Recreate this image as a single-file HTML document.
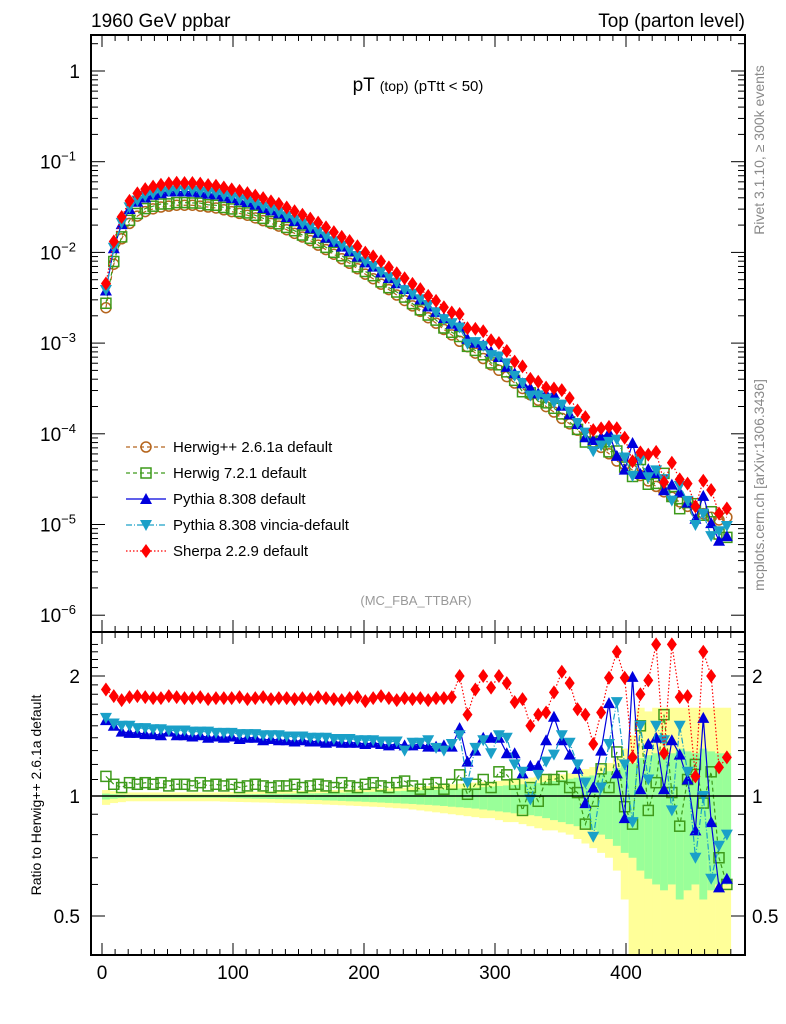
<!DOCTYPE html>
<html><head><meta charset="utf-8">
<style>
html,body{margin:0;background:#fff;width:786px;height:1024px;overflow:hidden;}
svg{display:block;font-family:"Liberation Sans",sans-serif;}
</style></head>
<body>
<svg id="chart" width="786" height="1024" viewBox="0 0 786 1024" xmlns="http://www.w3.org/2000/svg">
<defs>
<clipPath id="clipMain"><rect x="91" y="35" width="654" height="597"/></clipPath>
<clipPath id="clipRatio"><rect x="91" y="632" width="654" height="323"/></clipPath>
</defs>
<text x="91" y="27" font-size="19">1960 GeV ppbar</text>
<text x="745" y="27" font-size="19" text-anchor="end">Top (parton level)</text>
<text x="418" y="91" font-size="19" text-anchor="middle">pT <tspan font-size="14">(top)</tspan> <tspan font-size="15">(pTtt &lt; 50)</tspan></text>
<text x="416" y="605" font-size="13" fill="#999" text-anchor="middle">(MC_FBA_TTBAR)</text>
<text transform="translate(764,150) rotate(-90)" font-size="14" fill="#888" text-anchor="middle">Rivet 3.1.10, ≥ 300k events</text>
<text transform="translate(764,485) rotate(-90)" font-size="14" fill="#888" text-anchor="middle">mcplots.cern.ch [arXiv:1306.3436]</text>
<text transform="translate(41,795) rotate(-90)" font-size="14" text-anchor="middle">Ratio to Herwig++ 2.6.1a default</text>
<g id="bands" clip-path="url(#clipRatio)"></g>
<g id="marks"></g>
<g id="axes"></g>
<g id="legend"></g>
</svg>
<script>
// ---- data ----
const binCenters = [];
for (let i = 0; i < 80; i++) binCenters.push(3 + 6 * i);
const herwigppLog = [-2.61,-2.13,-1.85,-1.68,-1.60,-1.55,-1.52,-1.50,-1.49,-1.48,-1.48,-1.48,-1.49,-1.50,-1.51,-1.53,-1.55,-1.57,-1.59,-1.62,-1.65,-1.68,-1.71,-1.75,-1.79,-1.83,-1.87,-1.92,-1.97,-2.02,-2.07,-2.12,-2.18,-2.24,-2.29,-2.35,-2.41,-2.47,-2.53,-2.59,-2.65,-2.72,-2.78,-2.85,-2.91,-2.98,-3.04,-3.11,-3.17,-3.24,-3.30,-3.37,-3.44,-3.50,-3.57,-3.63,-3.70,-3.76,-3.83,-3.89,-3.96,-4.02,-4.09,-4.15,-4.22,-4.30,-4.34,-4.40,-4.46,-4.52,-4.58,-4.64,-4.70,-4.75,-4.80,-4.85,-4.88,-4.92,-4.95,-4.92];
const ratioHerwig7 = [1.12,1.07,1.05,1.08,1.07,1.08,1.07,1.08,1.06,1.07,1.07,1.06,1.08,1.06,1.07,1.06,1.07,1.05,1.06,1.07,1.06,1.05,1.06,1.06,1.07,1.05,1.06,1.07,1.06,1.05,1.08,1.06,1.05,1.07,1.08,1.06,1.05,1.08,1.09,1.06,1.04,1.07,1.08,1.04,1.07,1.13,1.01,1.07,1.1,1.05,1.15,1.13,1.07,0.92,1.05,0.97,1.1,1.1,1.12,1.05,1.02,0.85,0.97,1.17,1.05,1.29,0.94,0.85,1.5,0.92,1.08,1.6,1.02,0.84,1.1,1.2,0.96,1.15,0.7,0.6];
const ratioPythia = [1.55,1.5,1.45,1.44,1.44,1.43,1.43,1.42,1.45,1.42,1.42,1.41,1.42,1.4,1.41,1.4,1.41,1.39,1.4,1.4,1.38,1.39,1.38,1.38,1.37,1.38,1.37,1.37,1.36,1.37,1.36,1.36,1.36,1.35,1.36,1.35,1.34,1.35,1.34,1.34,1.35,1.33,1.33,1.34,1.33,1.48,1.22,1.3,1.4,1.4,1.4,1.28,1.28,1.14,1.19,1.19,1.38,1.58,1.38,1.27,1.17,0.96,1.05,1.3,1.71,1.14,0.88,1.99,1.04,1.35,1.4,1.04,1.38,1.27,1.1,0.82,1.57,0.86,0.59,0.62];
const ratioVincia = [1.57,1.52,1.5,1.5,1.48,1.48,1.47,1.47,1.46,1.46,1.46,1.45,1.45,1.45,1.44,1.44,1.44,1.43,1.43,1.43,1.42,1.42,1.42,1.41,1.41,1.41,1.4,1.4,1.4,1.39,1.39,1.39,1.38,1.38,1.38,1.37,1.37,1.37,1.3,1.36,1.36,1.38,1.32,1.3,1.35,1.42,1.08,1.32,1.38,1.28,1.42,1.4,1.2,1.15,0.98,1.13,1.22,1.27,1.42,1.36,1.2,1.08,0.79,1.05,1.35,1.72,1.2,0.86,1.5,1.1,1.5,1.38,0.92,1.5,1.15,0.7,1.0,0.62,0.75,0.8];
const ratioSherpa = [1.85,1.78,1.74,1.77,1.78,1.77,1.76,1.76,1.78,1.77,1.76,1.76,1.77,1.75,1.76,1.76,1.76,1.77,1.75,1.76,1.77,1.75,1.76,1.76,1.75,1.76,1.75,1.77,1.76,1.75,1.74,1.76,1.77,1.73,1.76,1.78,1.76,1.74,1.76,1.75,1.76,1.74,1.76,1.76,1.77,2.0,1.6,1.85,2.0,1.87,2.0,1.92,1.72,1.75,1.5,1.6,1.62,1.82,2.05,1.92,1.65,1.6,1.35,1.62,1.98,2.3,1.98,1.25,1.8,1.95,2.4,1.28,2.4,1.77,1.78,1.12,2.3,2.0,1.18,1.25];
const errGreen = [0.02,0.015,0.012,0.01,0.01,0.01,0.01,0.01,0.01,0.01,0.01,0.01,0.01,0.01,0.01,0.011,0.012,0.013,0.014,0.015,0.016,0.017,0.018,0.019,0.02,0.021,0.022,0.023,0.025,0.026,0.028,0.03,0.031,0.033,0.035,0.037,0.039,0.041,0.043,0.045,0.048,0.05,0.053,0.056,0.06,0.063,0.066,0.07,0.075,0.08,0.085,0.09,0.095,0.1,0.105,0.11,0.12,0.13,0.14,0.15,0.16,0.17,0.18,0.2,0.22,0.25,0.28,0.3,0.35,0.38,0.4,0.42,0.4,0.45,0.42,0.4,0.45,0.42,0.4,0.4];
const errYellow = [0.05,0.04,0.035,0.03,0.03,0.03,0.03,0.03,0.03,0.03,0.03,0.03,0.03,0.03,0.03,0.032,0.033,0.034,0.035,0.036,0.037,0.038,0.04,0.041,0.042,0.043,0.045,0.046,0.048,0.05,0.052,0.054,0.056,0.058,0.06,0.062,0.065,0.068,0.07,0.075,0.08,0.085,0.09,0.095,0.1,0.105,0.11,0.115,0.12,0.12,0.13,0.14,0.14,0.15,0.16,0.17,0.18,0.18,0.19,0.2,0.22,0.24,0.26,0.28,0.3,0.35,0.45,0.6,0.95,0.9,0.95,0.95,0.95,0.95,0.95,0.95,0.95,0.95,0.95,0.95];
const xTicks = [0,100,200,300,400];
const mainTicks = [0,-1,-2,-3,-4,-5,-6];
const ratioTicks = [2,1,0.5];

// ---- axes functions ----
const X0 = 102, XS = 1.31;
const xPx = v => X0 + v * XS;
const yMain = lg => 71 - lg * 90.7;
const yRatio = r => 796 - 120 * Math.log2(r);
const NS = 'http://www.w3.org/2000/svg';
function mk(tag, attrs, parent) {
  const e = document.createElementNS(NS, tag);
  for (const k in attrs) e.setAttribute(k, attrs[k]);
  parent.appendChild(e);
  return e;
}
const axes = document.getElementById('axes');
const marks = document.getElementById('marks');
const bands = document.getElementById('bands');

// bands
for (let i = 0; i < binCenters.length; i++) {
  const x1 = xPx(binCenters[i] - 3), x2 = xPx(binCenters[i] + 3);
  [[errYellow[i], '#ffff99', 'band-yellow'], [errGreen[i], '#99ff99', 'band-green']].forEach(([e, c, n]) => {
    const lo = Math.max(1 - e, 0.05), hi = 1 + 0.7 * e;
    const r = mk('rect', {x: x1, y: yRatio(hi), width: x2 - x1 + 0.3, height: yRatio(lo) - yRatio(hi), fill: c}, bands);
    
    
  });
}
const one = mk('line', {x1: 91, x2: 745, y1: yRatio(1), y2: yRatio(1), stroke: '#000', 'stroke-width': 1.5}, axes);



// series
const series = [
  {name: 'herwigpp', color: '#b5651d', dash: '4,3', marker: 'circle', ratio: null},
  {name: 'herwig7', color: '#3d9a1a', dash: '4,3', marker: 'square', ratio: ratioHerwig7},
  {name: 'pythia', color: '#0000dd', dash: '', marker: 'up', ratio: ratioPythia},
  {name: 'vincia', color: '#1aa0c8', dash: '6,2,1,2', marker: 'down', ratio: ratioVincia},
  {name: 'sherpa', color: '#ff0000', dash: '1.5,2', marker: 'diamond', ratio: ratioSherpa}
];
function marker(type, x, y, color, parent) {
  let e;
  if (type === 'circle') e = mk('circle', {cx: x, cy: y, r: 5, fill: 'none', stroke: color, 'stroke-width': 1.5}, parent);
  else if (type === 'square') e = mk('rect', {x: x - 5, y: y - 5, width: 10, height: 10, fill: 'none', stroke: color, 'stroke-width': 1.5}, parent);
  else if (type === 'up') e = mk('polygon', {points: `${x},${y-6} ${x-6},${y+5} ${x+6},${y+5}`, fill: color}, parent);
  else if (type === 'down') e = mk('polygon', {points: `${x},${y+6} ${x-6},${y-5} ${x+6},${y-5}`, fill: color}, parent);
  else e = mk('polygon', {points: `${x},${y-7} ${x+5},${y} ${x},${y+7} ${x-5},${y}`, fill: color}, parent);
  return e;
}
series.forEach(s => {
  const gm = mk('g', {'clip-path': 'url(#clipMain)'}, marks);
  
  
  const pm = [], pr = [];
  for (let i = 0; i < binCenters.length; i++) {
    const r = s.ratio ? s.ratio[i] : 1;
    const lg = herwigppLog[i] + Math.log10(r);
    pm.push([xPx(binCenters[i]), yMain(lg)]);
    pr.push([xPx(binCenters[i]), yRatio(r)]);
  }
  const groups = [[gm, pm]];
  if (s.ratio) {
    const gr = mk('g', {'clip-path': 'url(#clipRatio)'}, marks);
    
    
    groups.push([gr, pr]);
  }
  groups.forEach(([g, pts]) => {
    const pl = mk('polyline', {points: pts.map(p => p.join(',')).join(' '), fill: 'none', stroke: s.color, 'stroke-width': 1.2, 'stroke-dasharray': s.dash}, g);
    
    
    pts.forEach(p => {
      const m = marker(s.marker, p[0], p[1], s.color, g);
      
      
    });
  });
});

// frames
[[35, 597, 'main-frame'], [632, 323, 'ratio-frame']].forEach(([y, h, n]) => {
  const r = mk('rect', {x: 91, y: y, width: 654, height: h, fill: 'none', stroke: '#000', 'stroke-width': 2}, axes);
  
  
});
// x ticks
for (let v = 0; v <= 480; v += 10) {
  const major = v % 100 === 0;
  const L = major ? 12 : 6;
  [[35, 1], [632, -1], [632, 1], [955, -1]].forEach(([y, d]) => {
    const t = mk('line', {x1: xPx(v), x2: xPx(v), y1: y, y2: y + d * L, stroke: '#000', 'stroke-width': 1}, axes);
    
    
  });
}
xTicks.forEach(v => {
  const t = mk('text', {x: xPx(v), y: 979, 'font-size': 19, 'text-anchor': 'middle'}, axes);
  t.textContent = v;
  
  
});
// main y ticks
for (let d = 0; d >= -6; d--) {
  for (let k = 1; k <= 9; k++) {
    const yy = yMain(k === 1 ? d : d + Math.log10(k));
    if (yy < 35 || yy > 632) continue;
    const L = k === 1 ? 14 : 7;
    [[91, 1], [745, -1]].forEach(([x, s]) => {
      const t = mk('line', {x1: x, x2: x + s * L, y1: yy, y2: yy, stroke: '#000', 'stroke-width': 1}, axes);
      
      
    });
  }
}
mainTicks.forEach(d => {
  const t = mk('text', {x: 80, y: yMain(d) + 7, 'font-size': 19, 'text-anchor': 'end'}, axes);
  
  
  if (d === 0) t.textContent = '1';
  else {
    t.textContent = '10';
    const sp = mk('tspan', {dy: -8, 'font-size': 13}, t);
    sp.textContent = '−' + (-d);
  }
  if (d !== 0) t.setAttribute('x', 58);
  if (d !== 0) t.setAttribute('text-anchor', 'middle');
});
// ratio ticks
for (let r = 0.4; r <= 2.5; r += 0.1) {
  const yy = yRatio(r);
  if (yy < 632 || yy > 955) continue;
  const major = [0.5, 1, 2].some(v => Math.abs(v - r) < 1e-6);
  [[91, 1], [745, -1]].forEach(([x, s]) => {
    const t = mk('line', {x1: x, x2: x + s * (major ? 14 : 7), y1: yy, y2: yy, stroke: '#000', 'stroke-width': 1}, axes);
    
    
  });
}
ratioTicks.forEach(r => {
  [[80, 'end'], [752, 'start']].forEach(([x, a]) => {
    const t = mk('text', {x: x, y: yRatio(r) + 7, 'font-size': 19, 'text-anchor': a}, axes);
    t.textContent = r;
    
    
  });
});
// legend
const legendLabels = ['Herwig++ 2.6.1a default', 'Herwig 7.2.1 default', 'Pythia 8.308 default', 'Pythia 8.308 vincia-default', 'Sherpa 2.2.9 default'];
const lg = document.getElementById('legend');
series.forEach((s, i) => {
  const y = 447 + 26 * i;
  const g = mk('g', {}, lg);
  
  
  mk('line', {x1: 126, x2: 166, y1: y, y2: y, stroke: s.color, 'stroke-width': 1.2, 'stroke-dasharray': s.dash}, g);
  marker(s.marker, 146, y, s.color, g);
  const t = mk('text', {x: 173, y: y + 5, 'font-size': 15}, g);
  t.textContent = legendLabels[i];
});
</script>
</body></html>
